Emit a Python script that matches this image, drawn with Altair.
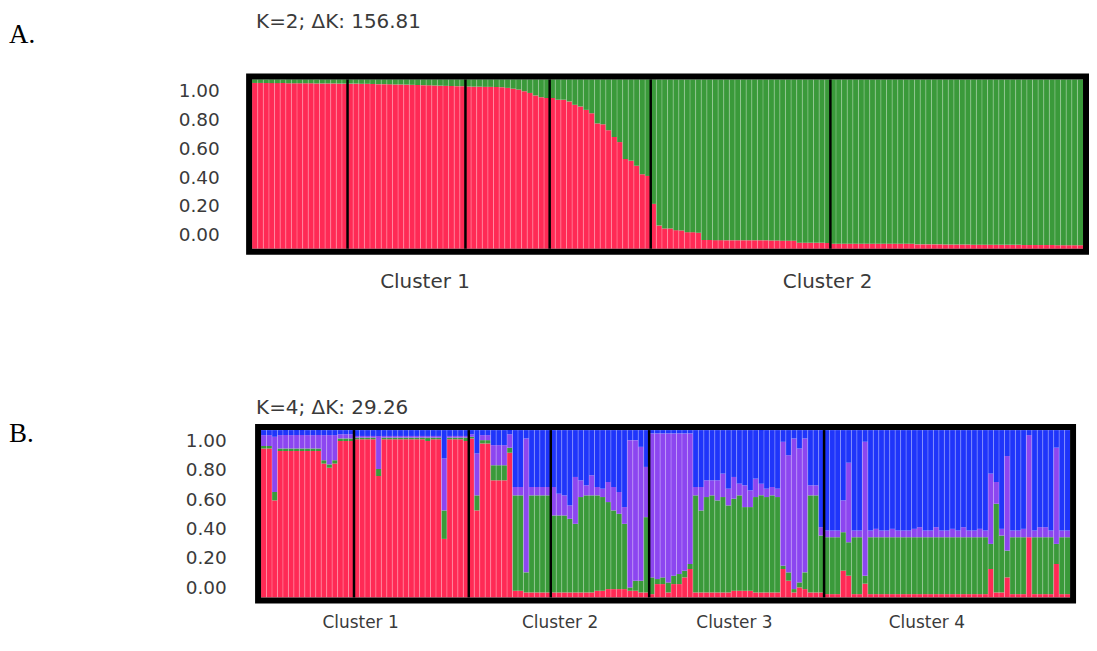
import altair as alt
import pandas as pd

# ---------------- data ----------------
POP_SIZES = [17, 21, 15, 18, 32, 45]
COMP_NAMES = ["red", "green", "purple", "blue"]
COMP_COLORS = ["#FF2A55", "#3A9A3A", "#8C46F0", "#1F35FA"]
Y_TICKS = [0.0, 0.2, 0.4, 0.6, 0.8, 1.0]

# Panel A (K=2): membership in the red cluster, green = remainder
A_RED = [
    0.979, 0.979, 0.978, 0.978, 0.978, 0.978, 0.977, 0.977, 0.977, 0.977, 0.977, 0.976, 0.976, 0.976, 0.976, 0.975, 0.975,
    0.975, 0.975, 0.974, 0.974, 0.973, 0.972, 0.972, 0.971, 0.970, 0.970, 0.969, 0.968, 0.967, 0.966, 0.965, 0.964, 0.963, 0.962, 0.961, 0.960, 0.960,
    0.958, 0.957, 0.957, 0.956, 0.956, 0.955, 0.954, 0.950, 0.945, 0.940, 0.930, 0.920, 0.905, 0.895, 0.890,
    0.890, 0.880, 0.880, 0.870, 0.850, 0.840, 0.820, 0.800, 0.740, 0.735, 0.700, 0.660, 0.630, 0.530, 0.520, 0.490, 0.440, 0.430,
    0.265, 0.137, 0.120, 0.120, 0.110, 0.108, 0.098, 0.098, 0.095, 0.052, 0.052, 0.051, 0.051, 0.050, 0.050, 0.050, 0.050, 0.050,
    0.050, 0.050, 0.050, 0.049, 0.049, 0.048, 0.048, 0.048, 0.036, 0.036, 0.035, 0.035, 0.035, 0.034,
    0.030, 0.030, 0.030, 0.030, 0.030, 0.030, 0.030, 0.030, 0.030, 0.030, 0.030, 0.030, 0.030, 0.030, 0.030,
    0.026, 0.026, 0.026, 0.026, 0.026, 0.025, 0.025, 0.025, 0.025, 0.025, 0.024, 0.024, 0.024, 0.024, 0.024,
    0.023, 0.023, 0.023, 0.023, 0.022, 0.022, 0.022, 0.022, 0.022, 0.022, 0.021, 0.021, 0.021, 0.021, 0.021,
]

# Panel B (K=4): four membership components per individual
B_RED = [
    0.89, 0.89, 0.58, 0.875, 0.875, 0.875, 0.875, 0.875, 0.875, 0.875, 0.875, 0.80, 0.775, 0.80, 0.935, 0.935, 0.935,
    0.945, 0.945, 0.945, 0.945, 0.726, 0.945, 0.945, 0.945, 0.945, 0.945, 0.945, 0.945, 0.945, 0.935, 0.945, 0.945, 0.35, 0.945, 0.945, 0.945, 0.935,
    0.95, 0.52, 0.92, 0.92, 0.70, 0.70, 0.70, 0.865, 0.04, 0.04, 0.03, 0.03, 0.03, 0.03, 0.03,
    0.03, 0.03, 0.03, 0.03, 0.03, 0.03, 0.03, 0.03, 0.04, 0.04, 0.05, 0.05, 0.05, 0.05, 0.04, 0.04, 0.03, 0.03,
    0.02, 0.08, 0.08, 0.03, 0.08, 0.08, 0.12, 0.17, 0.03, 0.03, 0.03, 0.03, 0.03, 0.03, 0.03, 0.04,
    0.04, 0.04, 0.04, 0.03, 0.03, 0.03, 0.03, 0.03, 0.17, 0.10, 0.03, 0.06, 0.05, 0.03, 0.03, 0.03,
    0.02, 0.02, 0.02, 0.16, 0.13, 0.02, 0.02, 0.083, 0.02, 0.02, 0.02, 0.02, 0.02, 0.02, 0.02,
    0.02, 0.02, 0.02, 0.02, 0.02, 0.02, 0.02, 0.02, 0.02, 0.02, 0.02, 0.02, 0.02, 0.02, 0.02,
    0.17, 0.03, 0.03, 0.12, 0.02, 0.02, 0.02, 0.36, 0.02, 0.02, 0.02, 0.02, 0.20, 0.02, 0.02,
]
B_GREEN = [
    0.015, 0.015, 0.05, 0.015, 0.015, 0.015, 0.015, 0.015, 0.015, 0.015, 0.015, 0.02, 0.02, 0.02, 0.015, 0.015, 0.015,
    0.01, 0.01, 0.01, 0.01, 0.042, 0.01, 0.01, 0.01, 0.01, 0.01, 0.01, 0.01, 0.01, 0.02, 0.01, 0.01, 0.17, 0.01, 0.01, 0.01, 0.02,
    0.01, 0.09, 0.02, 0.02, 0.09, 0.09, 0.09, 0.03, 0.57, 0.57, 0.12, 0.58, 0.58, 0.58, 0.58,
    0.46, 0.46, 0.46, 0.44, 0.41, 0.57, 0.58, 0.58, 0.57, 0.56, 0.52, 0.47, 0.45, 0.39, 0.02, 0.06, 0.07, 0.45,
    0.10, 0.03, 0.04, 0.06, 0.05, 0.06, 0.04, 0.03, 0.58, 0.49, 0.57, 0.58, 0.55, 0.57, 0.52, 0.55,
    0.57, 0.50, 0.50, 0.57, 0.58, 0.57, 0.58, 0.57, 0.02, 0.05, 0.02, 0.03, 0.10, 0.58, 0.58, 0.34,
    0.34, 0.34, 0.34, 0.23, 0.20, 0.34, 0.34, 0.047, 0.34, 0.34, 0.34, 0.34, 0.34, 0.34, 0.34,
    0.34, 0.34, 0.34, 0.34, 0.34, 0.34, 0.34, 0.34, 0.34, 0.34, 0.34, 0.34, 0.34, 0.34, 0.34,
    0.15, 0.53, 0.34, 0.16, 0.34, 0.34, 0.34, 0.00, 0.34, 0.34, 0.34, 0.34, 0.12, 0.34, 0.34,
]
B_PURPLE = [
    0.065, 0.065, 0.33, 0.08, 0.08, 0.08, 0.08, 0.08, 0.08, 0.08, 0.08, 0.15, 0.175, 0.15, 0.025, 0.025, 0.025,
    0.01, 0.01, 0.01, 0.01, 0.196, 0.01, 0.01, 0.01, 0.01, 0.01, 0.01, 0.01, 0.01, 0.01, 0.01, 0.01, 0.31, 0.01, 0.01, 0.01, 0.01,
    0.015, 0.25, 0.03, 0.03, 0.12, 0.12, 0.12, 0.08, 0.05, 0.05, 0.80, 0.05, 0.05, 0.05, 0.05,
    0.17, 0.13, 0.12, 0.08, 0.28, 0.10, 0.06, 0.12, 0.05, 0.05, 0.12, 0.14, 0.13, 0.10, 0.88, 0.84, 0.80, 0.30,
    0.86, 0.87, 0.86, 0.89, 0.85, 0.84, 0.82, 0.78, 0.05, 0.14, 0.10, 0.09, 0.12, 0.14, 0.10, 0.13,
    0.07, 0.13, 0.10, 0.11, 0.07, 0.05, 0.05, 0.05, 0.74, 0.70, 0.90, 0.80, 0.80, 0.06, 0.06, 0.05,
    0.04, 0.04, 0.04, 0.19, 0.475, 0.04, 0.04, 0.805, 0.04, 0.05, 0.04, 0.04, 0.05, 0.04, 0.04,
    0.04, 0.05, 0.06, 0.04, 0.04, 0.06, 0.04, 0.04, 0.05, 0.04, 0.06, 0.04, 0.04, 0.05, 0.04,
    0.42, 0.13, 0.04, 0.565, 0.04, 0.04, 0.05, 0.61, 0.04, 0.06, 0.06, 0.04, 0.575, 0.04, 0.04,
]
B_BLUE = [
    0.03, 0.03, 0.04, 0.03, 0.03, 0.03, 0.03, 0.03, 0.03, 0.03, 0.03, 0.03, 0.03, 0.03, 0.025, 0.025, 0.025,
    0.035, 0.035, 0.035, 0.035, 0.036, 0.035, 0.035, 0.035, 0.035, 0.035, 0.035, 0.035, 0.035, 0.035, 0.035, 0.035, 0.17, 0.035, 0.035, 0.035, 0.035,
    0.025, 0.14, 0.03, 0.03, 0.09, 0.09, 0.09, 0.025, 0.34, 0.34, 0.05, 0.34, 0.34, 0.34, 0.34,
    0.34, 0.38, 0.39, 0.45, 0.28, 0.30, 0.33, 0.27, 0.34, 0.35, 0.31, 0.34, 0.37, 0.46, 0.06, 0.06, 0.10, 0.22,
    0.02, 0.02, 0.02, 0.02, 0.02, 0.02, 0.02, 0.02, 0.34, 0.34, 0.30, 0.30, 0.30, 0.26, 0.35, 0.28,
    0.32, 0.33, 0.36, 0.29, 0.32, 0.35, 0.34, 0.35, 0.07, 0.15, 0.05, 0.11, 0.05, 0.33, 0.33, 0.58,
    0.60, 0.60, 0.60, 0.42, 0.195, 0.60, 0.60, 0.07, 0.60, 0.59, 0.60, 0.60, 0.59, 0.60, 0.60,
    0.60, 0.59, 0.58, 0.60, 0.60, 0.58, 0.60, 0.60, 0.59, 0.60, 0.58, 0.60, 0.60, 0.59, 0.60,
    0.26, 0.31, 0.59, 0.155, 0.60, 0.60, 0.59, 0.03, 0.60, 0.58, 0.58, 0.60, 0.105, 0.60, 0.60,
]

A_TITLE = "K=2; \u0394K: 156.81"
B_TITLE = "K=4; \u0394K: 29.26"
A_CLUSTER_LABELS = ["Cluster 1", "Cluster 2"]
A_CLUSTER_POS = [30.8, 102.5]
B_CLUSTER_LABELS = ["Cluster 1", "Cluster 2", "Cluster 3", "Cluster 4"]
B_CLUSTER_POS = [18.2, 54.7, 86.6, 121.8]

# ---------------- build tables ----------------
N = sum(POP_SIZES)
boundaries = []
acc = 0
for s in POP_SIZES[:-1]:
    acc += s
    boundaries.append(acc)

rows_a = []
for i, r in enumerate(A_RED):
    rows_a.append(dict(x0=i, x1=i + 1, y0=0.0, y1=r, comp="red"))
    rows_a.append(dict(x0=i, x1=i + 1, y0=r, y1=1.0, comp="green"))
df_a = pd.DataFrame(rows_a)

rows_b = []
for i in range(N):
    vals = [B_RED[i], B_GREEN[i], B_PURPLE[i], B_BLUE[i]]
    tot = sum(vals)
    c = 0.0
    for name, v in zip(COMP_NAMES, vals):
        rows_b.append(dict(x0=i, x1=i + 1, y0=c / tot, y1=(c + v) / tot, comp=name))
        c += v
df_b = pd.DataFrame(rows_b)

FONT = "DejaVu Sans"
TXT = "#3a3a3a"
W = 834


def panel(df, xr, H, lab_dom, cl_pos, cl_labels, cl_size, cl_y, title, title_y,
          letter, letter_y, ypad):
    xs = alt.Scale(domain=[0, N], range=xr, nice=False, zero=False)
    bars = alt.Chart(df).mark_rect(strokeWidth=0).encode(
        x=alt.X("x0:Q", scale=xs, axis=None),
        x2="x1:Q",
        y=alt.Y("y0:Q", scale=alt.Scale(domain=[0, 1], nice=False, zero=False), axis=None),
        y2="y1:Q",
        color=alt.Color("comp:N", scale=alt.Scale(domain=COMP_NAMES, range=COMP_COLORS), legend=None),
    )
    stripes = alt.Chart(pd.DataFrame({"b": list(range(1, N))})).mark_rule(
        color="white", strokeWidth=1, opacity=0.28
    ).encode(x=alt.X("b:Q", scale=xs, axis=None), y=alt.value(0), y2=alt.value(H))
    seps = alt.Chart(pd.DataFrame({"b": boundaries})).mark_rule(
        color="black", strokeWidth=2.5
    ).encode(x=alt.X("b:Q", scale=xs, axis=None), y=alt.value(0), y2=alt.value(H))
    frame = alt.Chart(pd.DataFrame({"k": [0]})).mark_rect(
        fillOpacity=0, stroke="black", strokeWidth=6
    ).encode(x=alt.value(xr[0] - 3), x2=alt.value(xr[1] + 3), y=alt.value(-3), y2=alt.value(H + 3))
    clusters = alt.Chart(pd.DataFrame({"pos": cl_pos, "label": cl_labels})).mark_text(
        font=FONT, fontSize=cl_size, color=TXT, baseline="middle", align="center"
    ).encode(x=alt.X("pos:Q", scale=xs, axis=None), y=alt.value(H + cl_y), text="label:N")
    ttl = alt.Chart(pd.DataFrame({"t": [title]})).mark_text(
        font=FONT, fontSize=20, color=TXT, align="left", baseline="middle"
    ).encode(x=alt.value(4), y=alt.value(title_y), text="t:N")
    let = alt.Chart(pd.DataFrame({"t": [letter]})).mark_text(
        font="Liberation Serif", fontSize=27, color="black", align="left", baseline="middle"
    ).encode(x=alt.value(-244), y=alt.value(letter_y), text="t:N")
    yaxis = alt.Chart(pd.DataFrame({"v": Y_TICKS})).mark_point(opacity=0).encode(
        y=alt.Y("v:Q", scale=alt.Scale(domain=lab_dom, nice=False, zero=False),
                axis=alt.Axis(values=Y_TICKS, format=".2f", orient="left", domain=False,
                              ticks=False, grid=False, labelPadding=ypad, labelFont=FONT,
                              labelFontSize=18.5, labelColor=TXT, title=None))
    )
    return alt.layer(bars, stripes, seps, frame, clusters, ttl, let, yaxis).resolve_scale(
        y="independent"
    ).properties(width=W, height=H)


chart_a = panel(df_a, [0, 834], 170, [-0.0966, 1.0759], A_CLUSTER_POS, A_CLUSTER_LABELS, 20, 33,
                A_TITLE, -57.5, "A.", -45, 33)
chart_b = panel(df_b, [9, 821], 168, [-0.0676, 1.0676], B_CLUSTER_POS, B_CLUSTER_LABELS, 17, 26,
                B_TITLE, -22, "B.", 4, 26)

chart = alt.vconcat(chart_a, chart_b, spacing=107).properties(
    padding={"left": 1, "top": 2.5, "right": 0, "bottom": 0}
).configure_view(stroke=None)

chart.save("out.html", embed_options={"renderer": "svg", "actions": False})
